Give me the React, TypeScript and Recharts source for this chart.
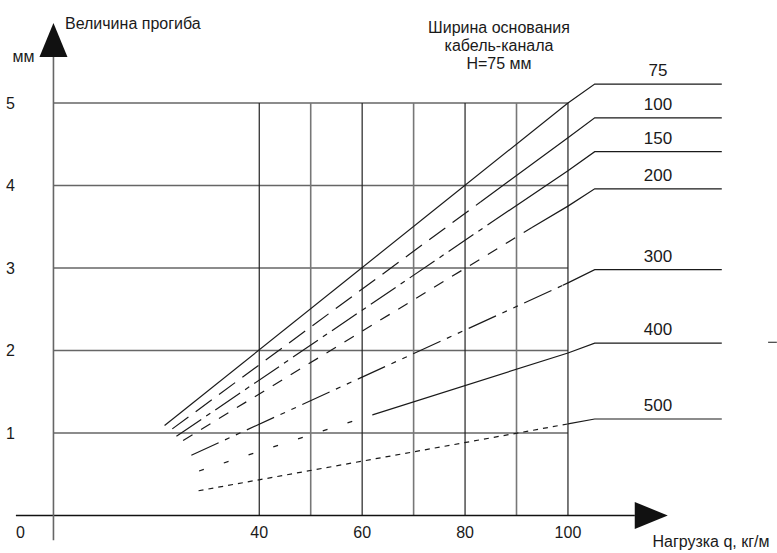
import React from "react";
import { ComposedChart, Line, XAxis, YAxis, ReferenceLine, ReferenceDot } from "recharts";

// Deflection of a cable channel (H=75 mm) vs. distributed load,
// one curve per base width.

const WIDTHS = ["75", "100", "150", "200", "300", "400", "500"];

// where each curve begins (load, kg/m and sag, mm)
const START_LOAD = [21.6, 23.1, 23.9, 25.2, 26.8, 28.3, 28.2];
const START_SAG = [1.09, 1.05, 0.96, 0.91, 0.73, 0.54, 0.3];

// point where the stroke turns into the solid leader line
const SOLID_FROM_LOAD = [100, 83, 86, 93, 99, 62, 100];
const SOLID_FROM_SAG = [5.0, 3.8, 3.59, 3.49, 2.79, 1.22, 1.11];

// sag at load 100 and the level of the horizontal leader
const SAG_AT_100 = [5.0, 4.58, 4.18, 3.75, 2.82, 1.97, 1.11];
const LEADER_SAG = [5.23, 4.82, 4.41, 3.96, 2.98, 2.09, 1.17];
const LEADER_BEND = 105.2;
const LEADER_END = 129.9;
const LABEL_LOAD = 117.5;

const GRID_LOADS = [40, 50, 60, 70, 80, 90, 100];
const GRID_SAGS = [1, 2, 3, 4, 5];
const X_TICKS = [40, 60, 80, 100];
const Y_TICKS = [1, 2, 3, 4, 5];

const LEGEND_TITLE = ["Ширина основания", "кабель-канала", "H=75 мм"];

const DASHES = ["", "20 9", "30 6 5 6", "11 10", "30 7 5 7 5 7", "5 21", "5 5"];

const FONT = "'Liberation Sans', Arial, sans-serif";
const INK = "#1a1a1a";

const mainRows = WIDTHS.map((_, i) => [
  { x: START_LOAD[i], y: START_SAG[i] },
  { x: SOLID_FROM_LOAD[i], y: SOLID_FROM_SAG[i] },
]);

const leaderRows = WIDTHS.map((_, i) => [
  { x: SOLID_FROM_LOAD[i], y: SOLID_FROM_SAG[i] },
  { x: 100, y: SAG_AT_100[i] },
  { x: LEADER_BEND, y: LEADER_SAG[i] },
  { x: LEADER_END, y: LEADER_SAG[i] },
]);

const UpArrow = (p: any) => (
  <polygon
    points={`${p.cx},${p.cy} ${p.cx - 14},${p.cy + 34} ${p.cx + 14},${p.cy + 34}`}
    fill="#111"
  />
);

const RightArrow = (p: any) => (
  <polygon
    points={`${p.cx},${p.cy} ${p.cx - 33},${p.cy - 13.5} ${p.cx - 33},${p.cy + 13.5}`}
    fill="#111"
  />
);

function txt(
  key: string,
  x: number,
  y: number,
  value: string,
  position: string,
  offset: number,
  fontSize: number
) {
  return (
    <ReferenceDot
      key={key}
      x={x}
      y={y}
      r={0}
      fill="none"
      stroke="none"
      ifOverflow="visible"
      label={{ value, position, offset, fontSize, fill: INK, fontFamily: FONT } as any}
    />
  );
}

export default function App() {
  return (
    <div
      style={{
        position: "absolute",
        left: 0,
        top: 0,
        width: 777,
        height: 553,
        background: "#fff",
        fontFamily: FONT,
      }}
    >
      <ComposedChart
        width={777}
        height={553}
        margin={{ top: 4, right: 44.4, bottom: 4.5, left: 12.3 }}
      >
        <XAxis type="number" dataKey="x" domain={[-8, 132]} hide />
        <YAxis type="number" dataKey="y" domain={[-0.4, 6.2]} hide />

        {/* grid */}
        {GRID_SAGS.map((s) => (
          <ReferenceLine
            key={`h${s}`}
            segment={[{ x: 0, y: s }, { x: 100, y: s }]}
            stroke="#666"
            strokeWidth={1.6}
            ifOverflow="visible"
          />
        ))}
        {GRID_LOADS.map((l) => (
          <ReferenceLine
            key={`v${l}`}
            segment={[{ x: l, y: 0 }, { x: l, y: 5 }]}
            stroke={l % 20 === 0 ? "#222" : "#777"}
            strokeWidth={l % 20 === 0 ? 1.2 : 1.6}
            ifOverflow="visible"
          />
        ))}

        {/* axes with arrows */}
        <ReferenceLine
          segment={[{ x: -7.3, y: 0 }, { x: 113, y: 0 }]}
          stroke="#111"
          strokeWidth={1.5}
          ifOverflow="visible"
        />
        <ReferenceLine
          segment={[{ x: 0, y: -0.3 }, { x: 0, y: 5.56 }]}
          stroke="#666"
          strokeWidth={1.6}
          ifOverflow="visible"
        />
        <ReferenceDot x={0} y={5.97} r={0} ifOverflow="visible" shape={UpArrow} />
        <ReferenceDot x={119.4} y={0} r={0} ifOverflow="visible" shape={RightArrow} />

        {/* curves */}
        {mainRows.map((rows, i) => (
          <Line
            key={`m${i}`}
            data={rows}
            dataKey="y"
            type="linear"
            stroke={INK}
            strokeWidth={1.2}
            strokeDasharray={DASHES[i] || undefined}
            dot={false}
            activeDot={false}
            isAnimationActive={false}
          />
        ))}
        {leaderRows.map((rows, i) => (
          <Line
            key={`l${i}`}
            data={rows}
            dataKey="y"
            type="linear"
            stroke={INK}
            strokeWidth={1.2}
            dot={false}
            activeDot={false}
            isAnimationActive={false}
          />
        ))}
        <ReferenceLine
          segment={[{ x: 138.9, y: 2.1 }, { x: 140.6, y: 2.1 }]}
          stroke={INK}
          ifOverflow="visible"
        />

        {/* tick labels */}
        {X_TICKS.map((t) => txt(`xt${t}`, t, 0, String(t), "bottom", 11, 16))}
        {Y_TICKS.map((t) => txt(`yt${t}`, 0, t, String(t), "left", 38.5, 16))}
        {txt("zero", -6.4, 0, "0", "bottom", 11, 16)}

        {/* titles */}
        {txt("ytitle", 0, 5.97, "Величина прогиба", "right", 11.5, 16)}
        {txt("yunit", 0, 5.56, "мм", "left", 19, 16)}
        {txt("xtitle", 127.8, 0, "Нагрузка q, кг/м", "bottom", 20, 16)}
        {LEGEND_TITLE.map((line, i) =>
          txt(`lg${i}`, 86.6, 5.92 - i * 0.22, line, "center", 0, 16)
        )}

        {/* curve labels above leaders */}
        {WIDTHS.map((w, i) => txt(`w${w}`, LABEL_LOAD, LEADER_SAG[i], w, "top", 8, 17))}
      </ComposedChart>
    </div>
  );
}
